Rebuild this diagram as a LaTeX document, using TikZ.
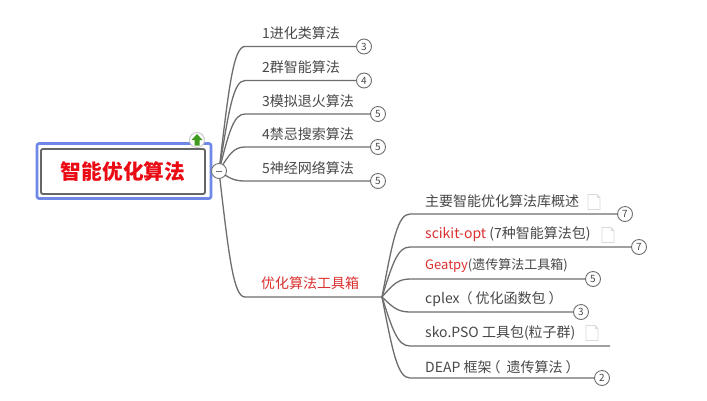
\documentclass[tikz,border=0pt]{standalone}
\usepackage{fontspec}
\setmainfont{Noto Sans CJK SC}
\usetikzlibrary{calc}
\definecolor{linegray}{HTML}{6E6E6E}
\definecolor{txtgray}{HTML}{484848}
\definecolor{txtred}{HTML}{DD3030}
\definecolor{rootred}{HTML}{EA0A14}
\definecolor{frameblue}{HTML}{6F87E6}
\definecolor{framegray}{HTML}{666666}
\definecolor{arrowgreen}{HTML}{3F9A1E}
\definecolor{docgray}{HTML}{DADADA}
\tikzset{
  conn/.style={draw=linegray,line width=1.3pt},
  badge/.style={circle,draw=linegray,fill=white,line width=0.9pt,minimum size=15pt,inner sep=0pt,text=txtgray,font=\fontsize{10}{10}\selectfont},
  lab/.style={anchor=west,inner sep=0pt,text=txtgray,font=\fontsize{14}{16}\selectfont},
  labs/.style={anchor=west,inner sep=0pt,text=txtgray,font=\fontsize{13}{16}\selectfont},
  frameouter/.style={draw=frameblue,line width=2.6pt,rounded corners=2pt,minimum width=174pt,minimum height=55pt,inner sep=0pt},
  frameinner/.style={draw=framegray,fill=white,line width=1.9pt,rounded corners=2pt,minimum width=164pt,minimum height=45pt,inner sep=0pt,text=rootred,font=\fontsize{20.7}{24}\selectfont\bfseries},
  docicon/.pic={
    \fill[white] (-6,-7.5) -- (3,-7.5) -- (6,-4.5) -- (6,7.5) -- (-6,7.5) -- cycle;
    \draw[docgray,line width=0.8pt] (-6,-7.5) -- (3,-7.5) -- (6,-4.5) -- (6,7.5) -- (-6,7.5) -- cycle;
    \draw[docgray,line width=0.6pt] (3,-7.5) -- (3,-4.5) -- (6,-4.5);
  }
}
\newcommand{\elbow}[3]{%
  \draw[conn] let \p1=(#1),\p2=(#2) in
    (\p1) .. controls ({\x1+0.38*#3},{\y1+0.68*(\y2-\y1)}) and ({\x1+0.56*#3},\y2) .. ({\x1+#3},\y2) -- (\p2);}
\begin{document}
\begin{tikzpicture}[x=1pt,y=-1pt]
\useasboundingbox (0,0) rectangle (707,400);
\fill[white] (0,0) rectangle (707,400);

% root
\node[frameouter] (rootframe) at (124,171) {};
\coordinate (hub) at (219,171);
\coordinate (toolhub) at (382,297);
\draw[conn] (rootframe.east) -- (hub);
\node[frameinner] (root) at (123,171.5) {智能优化算法};

% end points
\node[badge] (b1) at (364,46.5) {3};
\node[badge] (b2) at (364,80.5) {4};
\node[badge] (b3) at (378,114) {5};
\node[badge] (b4) at (378,147) {5};
\node[badge] (b5) at (378,181) {5};
\node[badge] (c1) at (625,214) {7};
\node[badge] (c2) at (639,247) {7};
\node[badge] (c3) at (593,279) {5};
\node[badge] (c4) at (581,312) {3};
\coordinate (c5) at (610,346);
\node[badge] (c6) at (602,378) {2};

% connectors
\elbow{hub}{b1.west}{26}
\elbow{hub}{b2.west}{26}
\elbow{hub}{b3.west}{26}
\elbow{hub}{b4.west}{26}
\elbow{hub}{b5.west}{26}
\elbow{hub}{toolhub}{26}
\elbow{toolhub}{c1.west}{28}
\elbow{toolhub}{c2.west}{28}
\elbow{toolhub}{c3.west}{28}
\elbow{toolhub}{c4.west}{28}
\elbow{toolhub}{c5}{28}
\elbow{toolhub}{c6.west}{28}

% collapse button
\node[circle,draw=linegray,fill=white,line width=0.9pt,minimum size=15pt,inner sep=0pt] (collapse) at (hub) {};
\draw[line width=1pt,draw=linegray] ($(collapse)+(-3,0)$) -- ($(collapse)+(3,0)$);

% up icon
\node[circle,draw=black!20,fill=white,line width=1pt,minimum size=15pt,inner sep=0pt] (up) at (197,140) {};
\fill[arrowgreen] ($(up)+(0,-6)$) -- ($(up)+(5.5,0)$) -- ($(up)+(2.5,0)$) -- ($(up)+(2.5,5.5)$) -- ($(up)+(-2.5,5.5)$) -- ($(up)+(-2.5,0)$) -- ($(up)+(-5.5,0)$) -- cycle;

% labels
\node[lab] (l1) at (262,33) {1进化类算法};
\node[lab] (l2) at (262,67) {2群智能算法};
\node[lab] (l3) at (262,101) {3模拟退火算法};
\node[lab] (l4) at (262,134) {4禁忌搜索算法};
\node[lab] (l5) at (262,168) {5神经网络算法};
\node[lab,text=txtred] (tool) at (261,283) {优化算法工具箱};
\node[lab] (t1) at (425,201) {主要智能优化算法库概述};
\node[lab] (t2) at (425,234) {\textcolor{txtred}{scikit-opt} (7种智能算法包)};
\node[labs] (t3) at (425,266) {\textcolor{txtred}{Geatpy}(遗传算法工具箱)};
\node[lab] (t4) at (425,299) {cplex\hspace{-1pt}（\hspace{3pt}优化函数包\hspace{3pt}）};
\node[lab] (t5) at (425,333) {sko.PSO 工具包(粒子群)};
\node[lab] (t6) at (425,367) {DEAP 框架\hspace{-5pt}（\hspace{6pt}遗传算法\hspace{3pt}）};

% note icons
\pic at (594,202) {docicon};
\pic at (608,235) {docicon};
\pic at (592,333) {docicon};
\end{tikzpicture}
\end{document}
